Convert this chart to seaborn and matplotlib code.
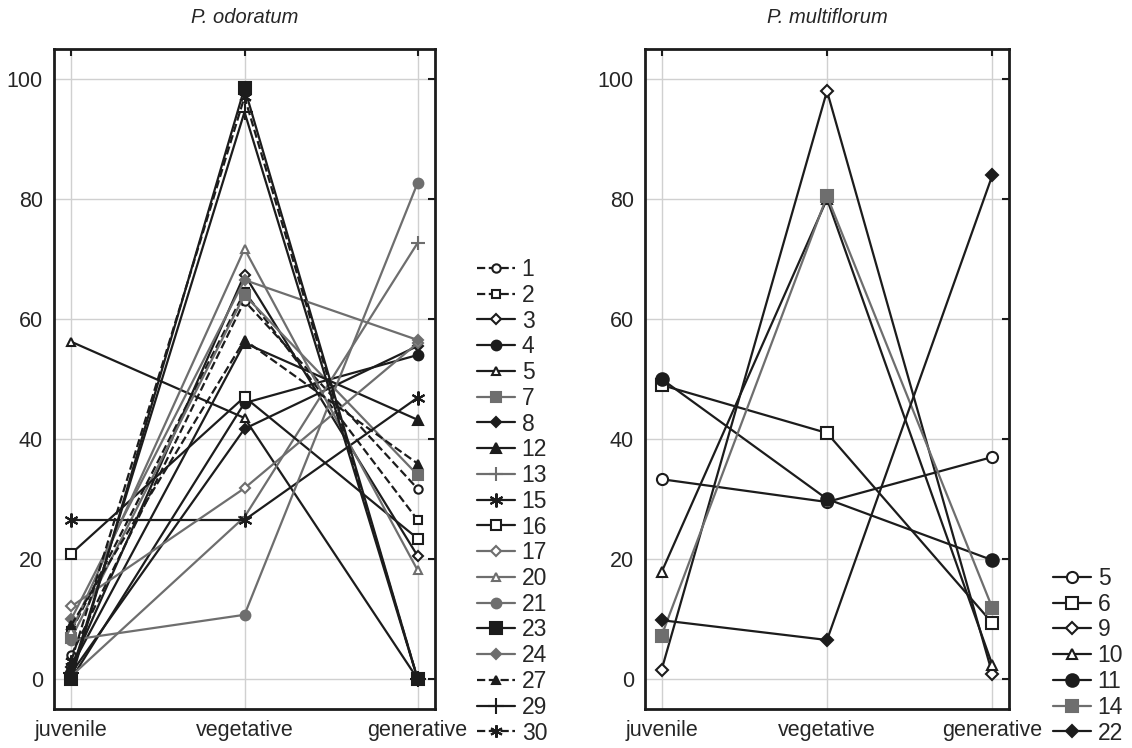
import pandas as pd
import seaborn as sns
import matplotlib.pyplot as plt

stages = ["juvenile", "vegetative", "generative"]

# P. odoratum
odo_labels = ["1", "2", "3", "4", "5", "7", "8", "12", "13", "15",
              "16", "17", "20", "21", "23", "24", "27", "29", "30"]
odo_values = [
    [4, 63, 31.7],
    [8, 64.5, 26.5],
    [2, 67.4, 20.5],
    [0, 46, 54],
    [56.2, 43.5, 0],
    [6.8, 64, 34],
    [1, 41.7, 55.5],
    [2, 56, 43.2],
    [0.5, 27, 72.7],
    [26.5, 26.5, 46.9],
    [20.9, 47, 23.4],
    [12.1, 31.8, 56],
    [8, 71.7, 18.1],
    [6.5, 10.7, 82.7],
    [0, 98.5, 0],
    [10, 66.5, 56.5],
    [9, 56.5, 35.9],
    [1, 94.5, 0],
    [3, 97, 0],
]

# P. multiflorum
mul_labels = ["5", "6", "9", "10", "11", "14", "22"]
mul_values = [
    [33.3, 29.5, 37],
    [49, 41, 9.3],
    [1.5, 98, 0.8],
    [17.8, 80, 2.3],
    [50, 30, 19.8],
    [7.2, 80.5, 11.8],
    [9.8, 6.5, 84],
]

BLACK = "#1c1c1c"
GRAY = "#6e6e6e"
AST = (6, 2, 0)
FS = 16.5

# label: (color, linestyle, marker, filled, size)
odo_style = {
    "1": (BLACK, "--", "o", False, 6),
    "2": (BLACK, "--", "s", False, 6),
    "3": (BLACK, "-", "D", False, 5),
    "4": (BLACK, "-", "o", True, 7),
    "5": (BLACK, "-", "^", False, 6),
    "7": (GRAY, "-", "s", True, 7),
    "8": (BLACK, "-", "D", True, 5),
    "12": (BLACK, "-", "^", True, 7),
    "13": (GRAY, "-", "+", True, 10),
    "15": (BLACK, "-", AST, True, 10),
    "16": (BLACK, "-", "s", False, 7),
    "17": (GRAY, "-", "D", False, 5),
    "20": (GRAY, "-", "^", False, 6),
    "21": (GRAY, "-", "o", True, 7),
    "23": (BLACK, "-", "s", True, 8),
    "24": (GRAY, "-", "D", True, 5),
    "27": (BLACK, "--", "^", True, 6),
    "29": (BLACK, "-", "+", True, 11),
    "30": (BLACK, "--", AST, True, 9),
}
mul_style = {
    "5": (BLACK, "-", "o", False, 8),
    "6": (BLACK, "-", "s", False, 8),
    "9": (BLACK, "-", "D", False, 6),
    "10": (BLACK, "-", "^", False, 7),
    "11": (BLACK, "-", "o", True, 9),
    "14": (GRAY, "-", "s", True, 8),
    "22": (BLACK, "-", "D", True, 6),
}


def to_long(labels, values):
    rows = []
    for lab, vals in zip(labels, values):
        for i, v in enumerate(vals):
            rows.append({"series": lab, "stage": i, "value": v})
    return pd.DataFrame(rows)


def draw_panel(ax, df, labels, styles, title):
    for lab in labels:
        color, ls, marker, filled, ms = styles[lab]
        sub = df[df["series"] == lab]
        sns.lineplot(data=sub, x="stage", y="value", ax=ax, color=color,
                     linestyle=ls, marker=marker, markersize=ms,
                     markerfacecolor=color if filled else "white",
                     markeredgecolor=color, markeredgewidth=1.5,
                     linewidth=1.6, label=lab, sort=False)
    ax.set_xlim(-0.1, 2.1)
    ax.set_ylim(-5, 105)
    ax.set_xticks([0, 1, 2])
    ax.set_xticklabels(stages)
    ax.set_yticks([0, 20, 40, 60, 80, 100])
    ax.set_xlabel("")
    ax.set_ylabel("")
    ax.set_title(title, style="italic", fontsize=14.5, pad=19)
    ax.grid(True, color="#d0d0d0", linewidth=1)
    ax.tick_params(direction="in", length=5, width=1.5, labelsize=15.5,
                   top=True, right=True, pad=8, color=BLACK)
    for sp in ax.spines.values():
        sp.set_linewidth(2)
        sp.set_color(BLACK)
    ax.get_legend().remove()


sns.set_style("white")
plt.rcParams["font.family"] = ["Liberation Sans", "DejaVu Sans"]

fig = plt.figure(figsize=(11.32, 7.48), dpi=100)
ax1 = fig.add_axes([54 / 1132, 1 - 709 / 748, 381 / 1132, 660 / 748])
ax2 = fig.add_axes([645 / 1132, 1 - 709 / 748, 364 / 1132, 660 / 748])

draw_panel(ax1, to_long(odo_labels, odo_values), odo_labels, odo_style, "P. odoratum")
draw_panel(ax2, to_long(mul_labels, mul_values), mul_labels, mul_style, "P. multiflorum")

h1, l1 = ax1.get_legend_handles_labels()
fig.legend(h1, l1, loc="upper left", bbox_to_anchor=(477 / 1132, 1 - 258 / 748),
           frameon=False, fontsize=FS, handlelength=1.65, handletextpad=0.3,
           labelspacing=0.12, borderaxespad=0, borderpad=0)
h2, l2 = ax2.get_legend_handles_labels()
fig.legend(h2, l2, loc="upper left", bbox_to_anchor=(1053 / 1132, 1 - 567 / 748),
           frameon=False, fontsize=FS, handlelength=1.65, handletextpad=0.3,
           labelspacing=0.12, borderaxespad=0, borderpad=0)

fig.savefig("out.png", dpi=100)
